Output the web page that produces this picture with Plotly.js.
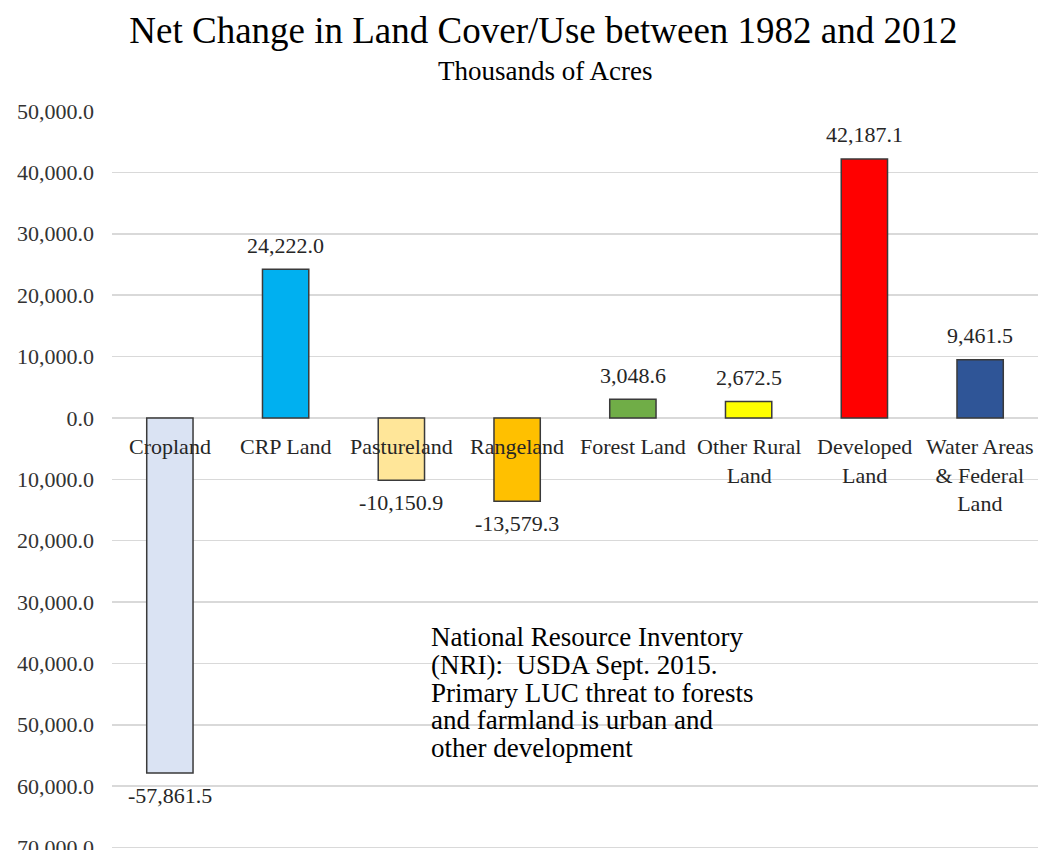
<!DOCTYPE html>
<html>
<head>
<meta charset="utf-8">
<script src="https://cdn.plot.ly/plotly-3.0.1.min.js"></script>
<style>
  html, body { margin: 0; padding: 0; background: #ffffff; }
  #chart { width: 1047px; height: 850px; }
</style>
</head>
<body>
<div id="chart"></div>
<script>
// ---- data ----
const categories = ["Cropland", "CRP Land", "Pastureland", "Rangeland", "Forest Land", "Other Rural Land", "Developed Land", "Water Areas & Federal Land"];
const categoryLabels = ["Cropland", "CRP Land", "Pastureland", "Rangeland", "Forest Land", "Other Rural<br>Land", "Developed<br>Land", "Water Areas<br>& Federal<br>Land"];
const netChange = [-57861.5, 24222.0, -10150.9, -13579.3, 3048.6, 2672.5, 42187.1, 9461.5];
const barColors = ["#DAE3F3", "#00B0F0", "#FFE699", "#FFC000", "#70AD47", "#FFFF00", "#FF0000", "#2F5597"];
const tickValues = [50000, 40000, 30000, 20000, 10000, 0, -10000, -20000, -30000, -40000, -50000, -60000, -70000];
const tickLabels = ["50,000.0", "40,000.0", "30,000.0", "20,000.0", "10,000.0", "0.0", "10,000.0", "20,000.0", "30,000.0", "40,000.0", "50,000.0", "60,000.0", "70,000.0"];
const titleText = "Net Change in Land Cover/Use between 1982 and 2012";
const subtitleText = "Thousands of Acres";
const noteLines = ["National Resource Inventory", "(NRI):  USDA Sept. 2015.", "Primary LUC threat to forests", "and farmland is urban and", "other development"];

// ---- helpers ----
const fmt = v => v.toLocaleString("en-US", { minimumFractionDigits: 1, maximumFractionDigits: 1 });
const SERIF = "Liberation Serif, Times New Roman, serif";

const trace = {
  type: "bar",
  x: categories,
  y: netChange,
  width: 0.4,
  marker: { color: barColors, line: { color: "#3a3a3a", width: 1.5 } },
  hoverinfo: "x+y",
  showlegend: false
};

const annotations = [];

// category labels just below the zero line
categories.forEach((c, i) => {
  annotations.push({
    x: c, y: 0, xref: "x", yref: "y",
    text: categoryLabels[i],
    showarrow: false,
    xanchor: "center", yanchor: "top", yshift: -14,
    align: "center",
    font: { family: SERIF, size: 22, color: "#262626" }
  });
});

// data labels
netChange.forEach((v, i) => {
  annotations.push({
    x: categories[i], y: v, xref: "x", yref: "y",
    text: fmt(v),
    showarrow: false,
    xanchor: "center", yanchor: "middle",
    yshift: v >= 0 ? 24 : -22,
    font: { family: SERIF, size: 22, color: "#262626" }
  });
});

// subtitle
annotations.push({
  x: 0.4677, y: 1.054, xref: "paper", yref: "paper",
  text: subtitleText, showarrow: false,
  xanchor: "center", yanchor: "middle",
  font: { family: SERIF, size: 27, color: "#000000" }
});

// note text block, one line each
noteLines.forEach((t, i) => {
  annotations.push({
    x: 0.3427, y: (850 - (637 + i * 27.8)) / 739, xref: "paper", yref: "paper",
    text: t, showarrow: false,
    xanchor: "left", yanchor: "middle", align: "left",
    font: { family: SERIF, size: 27, color: "#000000" }
  });
});

const layout = {
  width: 1047, height: 850,
  paper_bgcolor: "#ffffff", plot_bgcolor: "#ffffff",
  margin: { l: 112, r: 9, t: 111, b: 0 },
  title: {
    text: titleText,
    font: { family: SERIF, size: 37, color: "#000000" },
    x: 0.519, xref: "container", xanchor: "center",
    y: 1 - 30 / 850, yref: "container", yanchor: "middle"
  },
  xaxis: {
    showticklabels: false, showgrid: false, zeroline: false, showline: false, ticks: "",
    fixedrange: true
  },
  yaxis: {
    range: [-70400, 50000],
    tickmode: "array", tickvals: tickValues, ticktext: tickLabels,
    showgrid: true, gridcolor: "#d9d9d9", gridwidth: 1.5,
    zeroline: false, showline: false, ticks: "",
    ticklabelstandoff: 17,
    ticklabeloverflow: "allow",
    tickfont: { family: SERIF, size: 22, color: "#333333" },
    fixedrange: true
  },
  bargap: 0.6,
  annotations: annotations
};

Plotly.newPlot("chart", [trace], layout, { displayModeBar: false, staticPlot: true });
</script>
</body>
</html>
